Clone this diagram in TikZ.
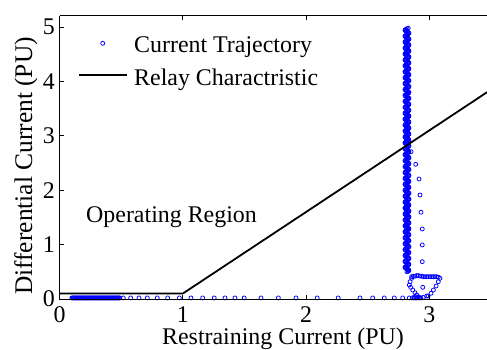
\documentclass[tikz,border=0pt]{standalone}
\usepackage{fontspec}
\setmainfont{Liberation Serif}
\begin{document}
\begin{tikzpicture}[x=1bp,y=1bp,
  lbl/.style={font=\fontsize{24}{28}\selectfont, inner sep=0pt},
  ylbl/.style={font=\fontsize{25.5}{30}\selectfont, inner sep=0pt},
  mk/.style={draw=blue, line width=0.75bp},
  relay/.style={draw=black, line width=1.8bp},
  axisline/.style={draw=black, line width=0.9bp}]
\useasboundingbox (0,0) rectangle (487,349);
\fill[white] (0,0) rectangle (487,349);
\begin{scope}
\clip (0,0) rectangle (487,349);
\begin{scope}[shift={(59.5,50)}, x=123.3bp, y=54.4bp]
  % dense start of the trajectory
  \foreach \i in {0,...,65} \draw[mk] ({0.1+\i*0.006}, 0.02) circle[radius=2bp];
  % sparse points along the bottom
  \foreach \xv in {0.517,0.577,0.645,0.712,0.793,0.877,0.972,1.066,1.161,1.255,1.342,1.423,1.498,1.634,1.775,1.918,2.09,2.26,2.437,2.54,2.634,2.715,2.783,2.837,2.875,2.897,2.916}
    \draw[mk] (\xv, 0.02) circle[radius=2bp];
  % vertical dense column
  \foreach \i in {0,...,400}
    \draw[mk] ({2.818+0.016*sin(\i*37)}, {0.5+\i*0.0112}) circle[radius=2bp];
  % sparse descent on the right
  \foreach \xv/\yv in {2.851/2.708, 2.889/2.476, 2.916/2.206, 2.924/1.912, 2.932/1.594, 2.942/1.287, 2.942/0.993, 2.942/0.686}
    \draw[mk] (\xv,\yv) circle[radius=2bp];
  % loop near the bottom
  \foreach \xv/\yv in {2.856/0.41, 2.870/0.42, 2.883/0.42, 2.897/0.43, 2.910/0.43, 2.924/0.42, 2.938/0.42, 2.951/0.41, 2.964/0.41, 2.978/0.41, 2.991/0.41, 3.005/0.41, 3.019/0.41, 3.032/0.41, 3.045/0.41, 3.059/0.41, 3.072/0.40, 3.086/0.38,
                        3.072/0.318, 3.054/0.239, 3.032/0.165, 3.013/0.105, 2.989/0.055,
                        2.856/0.38, 2.843/0.318, 2.837/0.257, 2.848/0.215, 2.865/0.165, 2.883/0.116, 2.897/0.074, 2.910/0.042, 2.924/0.024,
                        2.946/0.215, 2.978/0.055, 2.86/0.02, 2.875/0.03, 2.89/0.02, 2.905/0.03, 2.93/0.02, 2.95/0.03}
    \draw[mk] (\xv,\yv) circle[radius=2bp];
  % relay characteristic
  \coordinate (r0) at (0,0.1);
  \coordinate (r1) at (1,0.1);
  \coordinate (r2) at (3.5,3.85);
  \draw[relay] (r0) -- (r1) -- (r2);
  % axes frame
  \coordinate (o) at (0,0);
  \coordinate (tl) at (0,5.21);
  \coordinate (br) at (3.5,0);
  \coordinate (tr) at (3.5,5.21);
  \draw[axisline] (tl) -- (o) -- (br);
  \draw[axisline] (tl) -- (tr);
  \foreach \xv in {0,1,2,3} {
    \draw[axisline] (\xv,0) -- ++(0,4.3bp);
    \draw[axisline] (\xv,5.21) -- ++(0,-4.3bp);
  }
  \foreach \yv in {0,1,2,3,4,5}
    \draw[axisline] (0,\yv) -- ++(4.3bp,0);
  % tick labels
  \foreach \xv in {0,1,2,3}
    \node[lbl, anchor=base] (xt\xv) at (\xv,-23.5bp) {\xv};
  \foreach \yv in {0,1,2,3,4,5}
    \node[lbl, anchor=east] (yt\yv) at ([xshift=-4.5bp]0,\yv) {\yv};
\end{scope}
\end{scope}
% axis labels
\node[lbl, anchor=base] (xlab) at (283,4.5) {Restraining Current (PU)};
\node[ylbl, anchor=base, rotate=90] (ylab) at (32,183) {Differential Current (PU)};
% legend
\coordinate (legmk) at (102.7,305.7);
\draw[mk] (legmk) circle[radius=2bp];
\node[lbl, anchor=base west] (leg1) at (134,296.7) {Current Trajectory};
\coordinate (legA) at (79.3,274);
\coordinate (legB) at (127.3,274);
\draw[relay] (legA) -- (legB);
\node[lbl, anchor=base west] (leg2) at (134,264) {Relay Charactristic};
% region label
\node[lbl, anchor=base west] (region) at (86,127) {Operating Region};
\end{tikzpicture}
\end{document}
